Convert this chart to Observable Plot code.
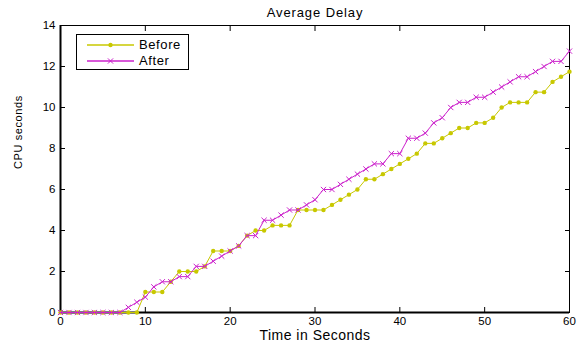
<!DOCTYPE html>
<html><head><meta charset="utf-8">
<script src="https://cdn.jsdelivr.net/npm/d3@7"></script>
<script src="https://cdn.jsdelivr.net/npm/@observablehq/plot@0.6"></script>
<style>
body{margin:0;background:#fff;}
#wrap{position:relative;width:580px;height:345px;font-family:"Liberation Sans",Arial,sans-serif;}
#legend{position:absolute;left:76px;top:34px;width:111px;height:34px;border:1px solid #000;background:#fff;font-size:13px;letter-spacing:0.6px;box-sizing:content-box;}
#legend .row{position:absolute;left:0;height:14px;line-height:14px;}
#legend .lbl{position:absolute;left:62px;top:0;white-space:nowrap;}
#legend svg{position:absolute;left:10px;top:0;}
</style></head><body><div id="wrap"></div>
<script>
const seconds = [0,1,2,3,4,5,6,7,8,9,10,11,12,13,14,15,16,17,18,19,20,21,22,23,24,25,26,27,28,29,30,31,32,33,34,35,36,37,38,39,40,41,42,43,44,45,46,47,48,49,50,51,52,53,54,55,56,57,58,59,60];
const before = [0,0,0,0,0,0,0,0,0,0,1.0,1.0,1.0,1.5,2.0,2.0,2.0,2.25,3.0,3.0,3.0,3.25,3.75,4.0,4.0,4.25,4.25,4.25,5.0,5.0,5.0,5.0,5.25,5.5,5.75,6.0,6.5,6.5,6.75,7.0,7.25,7.5,7.75,8.25,8.25,8.5,8.75,9.0,9.0,9.25,9.25,9.5,10.0,10.25,10.25,10.25,10.75,10.75,11.25,11.5,11.75];
const after = [0,0,0,0,0,0,0,0,0.25,0.5,0.75,1.25,1.5,1.5,1.75,1.75,2.25,2.25,2.5,2.75,3.0,3.25,3.75,3.75,4.5,4.5,4.75,5.0,5.0,5.25,5.5,6.0,6.0,6.25,6.5,6.75,7.0,7.25,7.25,7.75,7.75,8.5,8.5,8.75,9.25,9.5,10.0,10.25,10.25,10.5,10.5,10.75,11.0,11.25,11.5,11.5,11.75,12.0,12.25,12.25,12.75];
const seriesNames = ["Before", "After"];
const seriesColors = ["#c8c800", "#cc22cc"];
const xTicks = [0,10,20,30,40,50,60];
const yTicks = [0,2,4,6,8,10,12,14];
const titleText = "Average Delay";
const xLabel = "Time in Seconds";
const yLabel = "CPU seconds";

const rows = seconds.map((t, i) => ({t, before: before[i], after: after[i]}));
const font = '"Liberation Sans", Arial, sans-serif';

const plot = Plot.plot({
  width: 580, height: 345,
  marginLeft: 60, marginRight: 11, marginTop: 25, marginBottom: 33,
  style: {fontFamily: font, fontSize: "11px", background: "#fff", color: "#000", overflow: "visible"},
  x: {domain: [0, 60], label: null},
  y: {domain: [0, 14], label: null},
  marks: [
    Plot.frame({stroke: "#000", strokeWidth: 1}),
    Plot.ruleY([0], {stroke: "#000", strokeWidth: 2}),
    Plot.ruleX([0], {stroke: "#000", strokeWidth: 2}),
    Plot.axisX({ticks: xTicks, tickSize: -5, tickPadding: 9, label: null, fontSize: 11.5}),
    Plot.axisX({anchor: "top", ticks: xTicks, tickSize: -5, tickFormat: () => "", label: null}),
    Plot.axisY({ticks: yTicks, tickSize: -5, tickPadding: 10, label: null, fontSize: 11.5}),
    Plot.axisY({anchor: "right", ticks: yTicks, tickSize: -5, tickFormat: () => "", label: null}),
    Plot.line(rows, {x: "t", y: "before", stroke: seriesColors[0], strokeWidth: 1}),
    Plot.dot(rows, {x: "t", y: "before", fill: seriesColors[0], stroke: null, r: 2.2}),
    Plot.line(rows, {x: "t", y: "after", stroke: seriesColors[1], strokeWidth: 1}),
    Plot.dot(rows, {x: "t", y: "after", symbol: "times", stroke: seriesColors[1], strokeWidth: 1, r: 2.5}),
    Plot.text([titleText], {frameAnchor: "top", dy: -13, fontSize: 13, lineAnchor: "middle", text: d => d, style: "letter-spacing:0.9px"}),
    Plot.text([xLabel], {frameAnchor: "bottom", dy: 23, fontSize: 14, lineAnchor: "middle", text: d => d}),
    Plot.text([yLabel], {frameAnchor: "left", dx: -42, rotate: -90, fontSize: 11, lineAnchor: "middle", text: d => d})
  ]
});
const wrap = document.getElementById("wrap");
wrap.appendChild(plot);
// letter spacing on the labels (styling only)
d3.select(plot).selectAll("text").filter(function() { return this.textContent === titleText; }).style("letter-spacing", "0.9px");
d3.select(plot).selectAll("text").filter(function() { return this.textContent === xLabel; }).style("letter-spacing", "0.5px");
d3.select(plot).selectAll("text").filter(function() { return this.textContent === yLabel; }).style("letter-spacing", "0.6px");

// legend
const legend = document.createElement("div");
legend.id = "legend";
seriesNames.forEach((name, i) => {
  const row = document.createElement("div");
  row.className = "row";
  row.style.top = (3 + i * 16) + "px";
  row.style.width = "111px";
  const svg = d3.create("svg").attr("width", 48).attr("height", 14);
  svg.append("line").attr("x1", 0).attr("x2", 47).attr("y1", 7).attr("y2", 7)
    .attr("stroke", seriesColors[i]).attr("stroke-width", 1.3);
  if (i === 0) {
    svg.append("circle").attr("cx", 23.5).attr("cy", 7).attr("r", 2.2).attr("fill", seriesColors[i]);
  } else {
    svg.append("path").attr("d", d3.symbol(d3.symbolTimes, Math.PI * 2.5 * 2.5)()).attr("transform", "translate(23.5,7)")
      .attr("stroke", seriesColors[i]).attr("fill", "none");
  }
  row.appendChild(svg.node());
  const lbl = document.createElement("span");
  lbl.className = "lbl";
  lbl.textContent = name;
  row.appendChild(lbl);
  legend.appendChild(row);
});
wrap.appendChild(legend);
</script></body></html>
